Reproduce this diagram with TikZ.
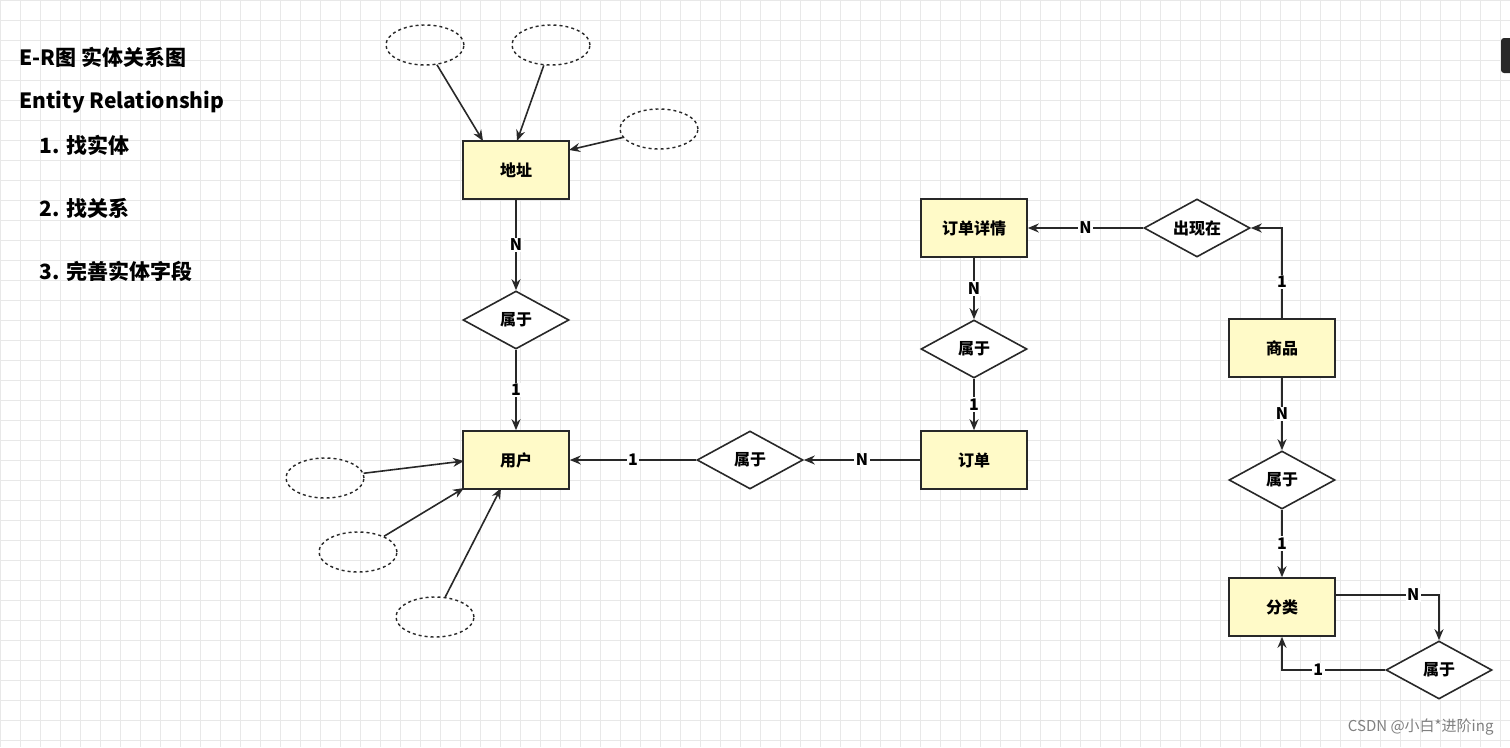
\documentclass[tikz,border=0pt]{standalone}
\usepackage{fontspec}
\setmainfont{Noto Sans CJK SC}
\usetikzlibrary{shapes.geometric,arrows.meta}
\definecolor{ent}{RGB}{255,250,200}
\definecolor{gridc}{RGB}{232,232,232}
\definecolor{ln}{RGB}{40,40,40}
\begin{document}
\begin{tikzpicture}[x=1pt,y=-1pt,
  entity/.style={draw=ln,fill=ent,line width=1.6pt,minimum width=106pt,minimum height=58pt,font=\bfseries\fontsize{16}{18}\selectfont},
  rel/.style={draw=ln,fill=white,diamond,aspect=1.83,line width=1.6pt,minimum width=106pt,minimum height=58pt,inner sep=0pt,font=\bfseries\fontsize{16}{18}\selectfont},
  attr/.style={draw=ln,dashed,ellipse,line width=1.4pt,minimum width=78pt,minimum height=40pt},
  con/.style={draw=ln,line width=1.6pt,-{Stealth[length=11pt,width=9pt]}},
  lab/.style={fill=white,inner sep=1.5pt,font=\bfseries\fontsize{16}{18}\selectfont},
  ttl/.style={anchor=west,font=\bfseries\fontsize{21}{24}\selectfont}]
\useasboundingbox (0,0) rectangle (1510,747);
\fill[white] (0,0) rectangle (1510,747);
\foreach \i in {0,20,...,1500} \draw[gridc,line width=0.8pt] (\i,0) -- (\i,747);
\foreach \j in {0,20,...,740} \draw[gridc,line width=0.8pt] (0,\j) -- (1510,\j);
\fill[ln,rounded corners=3pt] (1501,38) rectangle (1515,73);
\node[ttl] (t1) at (16,57) {E-R图 实体关系图};
\node[ttl] (t2) at (16,102) {Entity Relationship};
\node[ttl] (t3) at (36,145) {1. 找实体};
\node[ttl] (t4) at (36,208) {2. 找关系};
\node[ttl] (t5) at (36,271) {3. 完善实体字段};
\node[entity] (dz) at (516,170) {地址};
\node[entity] (yh) at (516,460) {用户};
\node[entity] (dd) at (974,460) {订单};
\node[entity] (xq) at (974,228) {订单详情};
\node[entity] (sp) at (1282,348) {商品};
\node[entity] (fl) at (1282,607) {分类};
\node[rel] (r1) at (516,320) {属于};
\node[rel] (r2) at (750,460) {属于};
\node[rel] (r3) at (974,349) {属于};
\node[rel] (r4) at (1197,228) {出现在};
\node[rel] (r5) at (1282,480) {属于};
\node[rel] (r6) at (1439,670) {属于};
\node[attr] (a1) at (425,45) {};
\node[attr] (a2) at (551,45) {};
\node[attr] (a3) at (659,129) {};
\node[attr] (a4) at (325,478) {};
\node[attr] (a5) at (358,552) {};
\node[attr] (a6) at (435,617) {};
\draw[con] (a1) -- (483,141);
\draw[con] (a2) -- (517,141);
\draw[con] (a3) -- (569,150);
\draw[con] (a4) -- (464,461);
\draw[con] (a5) -- (464,488);
\draw[con] (a6) -- (501,488);
\draw[con] (dz) -- node[lab]{N} (r1);
\draw[con] (r1) -- node[lab]{1} (yh);
\draw[con] (dd) -- node[lab]{N} (r2);
\draw[con] (r2) -- node[lab]{1} (yh);
\draw[con] (xq) -- node[lab]{N} (r3);
\draw[con] (r3) -- node[lab]{1} (dd);
\draw[con] (r4) -- node[lab]{N} (xq);
\draw[con] (sp.north) -- node[lab,pos=0.4]{1} (1282,228) -- (r4.east);
\draw[con] (sp) -- node[lab]{N} (r5);
\draw[con] (r5) -- node[lab]{1} (fl);
\coordinate (c1) at (1439,595);
\coordinate (c2) at (1282,670);
\draw[con] (fl.east |- c1) -- node[lab,pos=0.75]{N} (c1) -- (r6.north);
\draw[con] (r6.west) -- node[lab,pos=0.65]{1} (c2) -- (fl.south);
\node[anchor=east,text=gray,font=\fontsize{15}{17}\selectfont] (wm) at (1497,727) {CSDN @小白*进阶ing};
\end{tikzpicture}
\end{document}
